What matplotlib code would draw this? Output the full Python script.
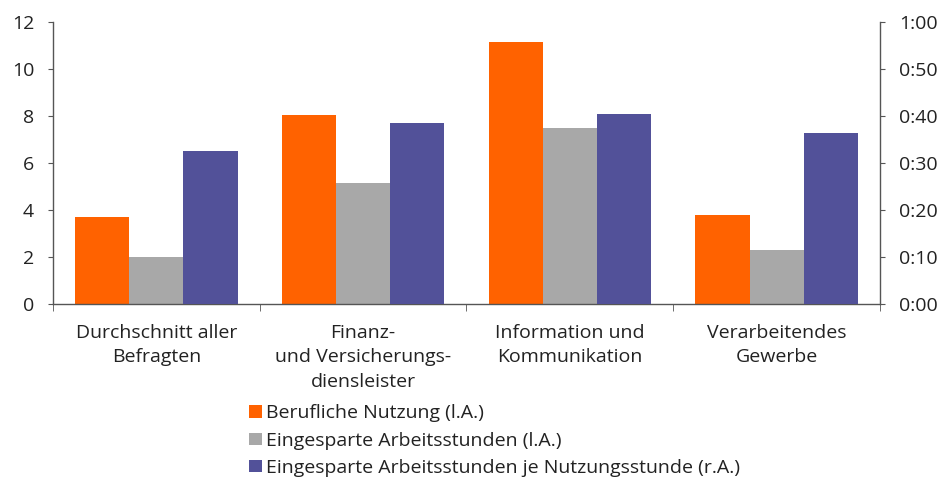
import numpy as np
import matplotlib
matplotlib.use("Agg")
import matplotlib.pyplot as plt
from matplotlib.patches import Patch
from matplotlib.ticker import FuncFormatter, FixedLocator

plt.rcParams['font.family'] = ['Open Sans', 'DejaVu Sans']

# DATA
categories = ['Durchschnitt aller\nBefragten',
              'Finanz-\nund Versicherungs-\ndiensleister',
              'Information und\nKommunikation',
              'Verarbeitendes\nGewerbe']
nutzung = [3.70, 8.04, 11.17, 3.79]          # l.A.
eingespart = [2.01, 5.15, 7.51, 2.30]        # l.A.
je_stunde_min = [32.7, 38.5, 40.4, 36.5]     # r.A., minutes
series_labels = ['Berufliche Nutzung (l.A.)',
                 'Eingesparte Arbeitsstunden (l.A.)',
                 'Eingesparte Arbeitsstunden je Nutzungsstunde (r.A.)']

ORANGE = '#FF6200'
GRAY = '#A8A8A8'
PURPLE = '#525199'
AXIS = '#555555'
TEXT = '#222222'

fig = plt.figure(figsize=(9.53, 4.79), dpi=100)
ax = fig.add_axes([0.0556, 0.3645, 0.8678, 0.5895])
ax2 = ax.twinx()

x = np.arange(len(categories))
w = 0.262

ax.bar(x - w, nutzung, w, color=ORANGE, zorder=2)
ax.bar(x, eingespart, w, color=GRAY, zorder=2)
ax2.bar(x + w, je_stunde_min, w, color=PURPLE, zorder=2)

ax.set_xlim(-0.5, len(categories) - 0.5)
ax.set_ylim(0, 12)
ax2.set_ylim(0, 60)
ax.set_yticks(np.arange(0, 13, 2))
ax2.set_yticks(np.arange(0, 61, 10))
ax2.yaxis.set_major_formatter(FuncFormatter(lambda v, p: f"{int(v)//60}:{int(v)%60:02d}"))

ax.set_xticks(x)
ax.set_xticklabels(categories, fontsize=14, color=TEXT, linespacing=1.46)
ax.xaxis.set_minor_locator(FixedLocator(np.arange(-0.5, len(categories), 1)))
ax.tick_params(axis='x', which='major', length=0, pad=14)
ax.tick_params(axis='x', which='minor', length=5, direction='out', color=AXIS)

for a in (ax, ax2):
    a.spines['top'].set_visible(False)
    for s in a.spines.values():
        s.set_color(AXIS)
        s.set_linewidth(1.0)
ax.spines['right'].set_visible(False)
ax2.spines['left'].set_visible(False)
ax2.spines['bottom'].set_visible(False)

ax.tick_params(axis='y', length=3.6, color=AXIS, labelsize=14, labelcolor=TEXT, pad=10)
ax2.tick_params(axis='y', length=3.6, color=AXIS, labelsize=14, labelcolor=TEXT, pad=10)

handles = [Patch(facecolor=c, edgecolor='none') for c in (ORANGE, GRAY, PURPLE)]
fig.legend(handles, series_labels, loc='upper left', bbox_to_anchor=(0.261, 0.156),
           bbox_transform=fig.transFigure, frameon=False, fontsize=14,
           handlelength=0.68, handleheight=0.6, handletextpad=0.2,
           labelspacing=0.48, borderpad=0, borderaxespad=0, labelcolor=TEXT)

fig.savefig('out.png', dpi=100)
